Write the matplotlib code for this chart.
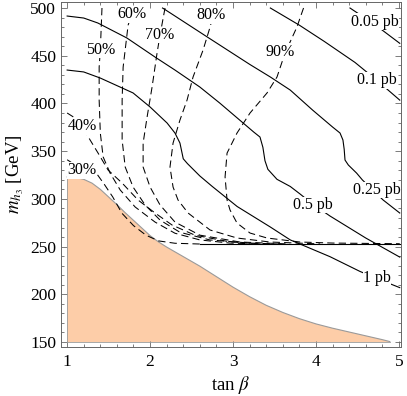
import matplotlib
matplotlib.use('Agg')
import matplotlib.pyplot as plt
from matplotlib.ticker import MultipleLocator

plt.rcParams['font.family'] = ['Liberation Serif', 'DejaVu Serif']
plt.rcParams['mathtext.fontset'] = 'stix'

# ---- excluded region (orange) ----
excl_x = [1.0, 1.1, 1.2, 1.3, 1.4, 1.5, 1.6, 1.7, 1.8, 1.9, 2.0, 2.1, 2.2, 2.4, 2.6, 2.8, 3.0,
          3.2, 3.4, 3.6, 3.8, 4.0, 4.2, 4.4, 4.6, 4.8, 4.89]
excl_y = [323, 322.5, 320.5, 316.5, 310, 302, 294, 285.5, 277.5, 269.5, 261.5, 255, 249.5, 239.5,
          229.5, 218.5, 207.5, 197.5, 188.5, 181, 174.5, 169, 164.5, 160.5, 156.5, 152.5, 150.5]
excl_floor = 150

# ---- cross-section contours (solid) ----
pb005_x = [4.41, 4.72, 5.01]
pb005_y = [500, 482, 463]
pb01_x = [3.45, 3.8, 4.1, 4.47, 4.73, 5.01]
pb01_y = [500, 482, 465, 443, 424.5, 403.5]
pb025_x = [2.15, 2.24, 2.69, 3.2, 3.45, 3.69, 3.96, 4.2, 4.29, 4.325, 4.34, 4.35, 4.39, 4.49, 4.56, 4.81, 5.01]
pb025_y = [500, 495, 469.6, 441, 427.7, 414, 393, 375.3, 369, 361.7, 352, 340.7, 335.5, 327, 319.8, 298.8, 285.2]
pb05_x = [1.0, 1.2, 1.37, 1.72, 2.06, 2.30, 2.60, 2.84, 3.08, 3.25, 3.325, 3.36, 3.385, 3.42, 3.53, 3.69, 3.81, 3.96, 4.17, 4.6, 5.01]
pb05_y = [491.6, 489.5, 484.3, 468.6, 448.6, 435, 417.2, 400.4, 382.6, 370, 364.8, 354, 340, 331, 320.5, 313, 305, 294.5, 282, 259, 239]
pb1_x = [1.0, 1.2, 1.40, 1.795, 2.0, 2.205, 2.30, 2.36, 2.40, 2.45, 2.6, 2.75, 3.05, 3.45, 3.69, 4.17, 4.53, 4.735, 5.01]
pb1_y = [435, 433, 426.6, 411, 396.3, 379.5, 369, 358.5, 342, 337, 324, 313, 292, 270.5, 257, 239.4, 224, 216.5, 207]
threshold_x = [2.6, 5.01]
threshold_y = [252.7, 252.7]

# ---- fraction contours (dashed) ----
f30_x = [1.0, 1.18, 1.36, 1.45, 1.55, 1.66, 1.8, 1.95, 2.1, 2.3, 2.6]
f30_y = [341, 331, 326, 315, 302, 285, 272, 262, 256, 253.5, 252.7]
f40_x = [1.0, 1.096, 1.18, 1.277, 1.373, 1.494, 1.663, 1.855, 2.06, 2.265, 2.54, 2.96, 3.33]
f40_y = [390, 384.7, 376, 361.7, 348, 330.2, 316.6, 298.8, 285.2, 272.6, 262, 255, 252.7]
f50_x = [1.42, 1.40, 1.386, 1.386, 1.40, 1.434, 1.518, 1.64, 1.82, 2.06, 2.30, 2.60, 2.96, 3.33]
f50_y = [500, 456, 438, 403.6, 369, 344, 327, 309.3, 291.5, 275.7, 264, 257, 253.7, 252.7]
f60_x = [1.82, 1.78, 1.735, 1.675, 1.663, 1.663, 1.70, 1.795, 1.94, 2.12, 2.36, 2.72, 3.2, 3.57]
f60_y = [500, 493.7, 482, 438, 403.6, 361.7, 333.4, 312.4, 293.6, 277.8, 265, 257, 253.7, 252.7]
f70_x = [2.18, 2.12, 2.084, 2.024, 1.964, 1.916, 1.916, 2.0, 2.12, 2.30, 2.60, 3.084, 3.687]
f70_y = [500, 471.7, 452.8, 417.2, 385.8, 358.5, 333.4, 312.4, 293.6, 275.7, 262, 254.8, 252.7]
f80_x = [2.82, 2.76, 2.723, 2.639, 2.518, 2.446, 2.36, 2.277, 2.24, 2.277, 2.337, 2.458, 2.723, 3.048, 3.446, 4.05]
f80_y = [500, 492.6, 480, 456, 427.7, 403.6, 382.6, 358.5, 333.4, 312.4, 298.8, 285.2, 267.4, 259, 254.8, 252.8]
f90_x = [3.85, 3.77, 3.627, 3.53, 3.41, 3.205, 3.048, 2.928, 2.904, 2.928, 2.964, 3.048, 3.205, 3.41, 3.807, 4.205, 5.01]
f90_y = [500, 480, 452.8, 427.7, 411, 390, 369, 348, 323, 298.8, 288.3, 274.7, 264.2, 259, 254.8, 253.7, 253]

tick_x = [1, 2, 3, 4, 5]
tick_y = [150, 200, 250, 300, 350, 400, 450, 500]

fig = plt.figure(figsize=(4.07, 3.96), dpi=100)
ax = fig.add_axes([61/407, 49/396, 340/407, 345/396])

ax.fill_between(excl_x, excl_y, excl_floor, facecolor='#fdcda8', edgecolor='none', zorder=1)
ax.plot(excl_x, excl_y, color='#9a9a9a', lw=0.8, zorder=2)
ax.plot([excl_x[0], excl_x[0]], [excl_floor, excl_y[0]], color='#9a9a9a', lw=0.6, zorder=2)
ax.plot([excl_x[0], excl_x[-1]], [excl_floor, excl_floor], color='#9a9a9a', lw=0.6, zorder=2)

solid_kw = dict(color='black', lw=0.8, zorder=3)
for xx, yy in [(pb005_x, pb005_y), (pb01_x, pb01_y), (pb025_x, pb025_y),
               (pb05_x, pb05_y), (pb1_x, pb1_y), (threshold_x, threshold_y)]:
    ax.plot(xx, yy, **solid_kw)

for xx, yy in [(f30_x, f30_y), (f40_x, f40_y), (f50_x, f50_y), (f60_x, f60_y),
               (f70_x, f70_y), (f80_x, f80_y), (f90_x, f90_y)]:
    ax.plot(xx, yy, color='black', lw=0.75, dashes=(7, 4), zorder=3)

lab_kw = dict(fontsize=11.5, ha='center', va='center', zorder=5,
              bbox=dict(facecolor='white', edgecolor='none', pad=0.3))
labels = [
    (4.71, 485.5, '0.05 pb'), (4.735, 424.5, '0.1 pb'), (4.735, 309.3, '0.25 pb'),
    (3.964, 293.6, '0.5 pb'), (4.735, 217, '1 pb'),
    (1.18, 330, '30%'), (1.18, 376.3, '40%'), (1.40, 456, '50%'), (1.78, 493.7, '60%'),
    (2.12, 471.7, '70%'), (2.74, 492.6, '80%'), (3.566, 454, '90%'),
]
for lx, ly, s in labels:
    ax.text(lx, ly, s, **lab_kw)

ax.set_xlim(0.926, 5.025)
ax.set_ylim(144.8, 506.3)
ax.set_xticks(tick_x)
ax.set_yticks(tick_y)
ax.xaxis.set_minor_locator(MultipleLocator(0.2))
ax.yaxis.set_minor_locator(MultipleLocator(10))
ax.tick_params(which='both', direction='in', top=True, right=True, color='#666666', width=0.6)
ax.tick_params(which='major', length=4, labelsize=12.5)
ax.tick_params(axis='x', which='major', pad=5)
ax.tick_params(axis='y', which='major', pad=3.5)
ax.tick_params(which='minor', length=2)
for sp in ax.spines.values():
    sp.set_color('#666666')
    sp.set_linewidth(0.7)

ax.set_xlabel(r'tan $\beta$', fontsize=13.5, labelpad=3)
ax.set_ylabel(r'$m_{h_3}$ [GeV]', fontsize=13.5, labelpad=3)

fig.savefig('out.png', dpi=100)
